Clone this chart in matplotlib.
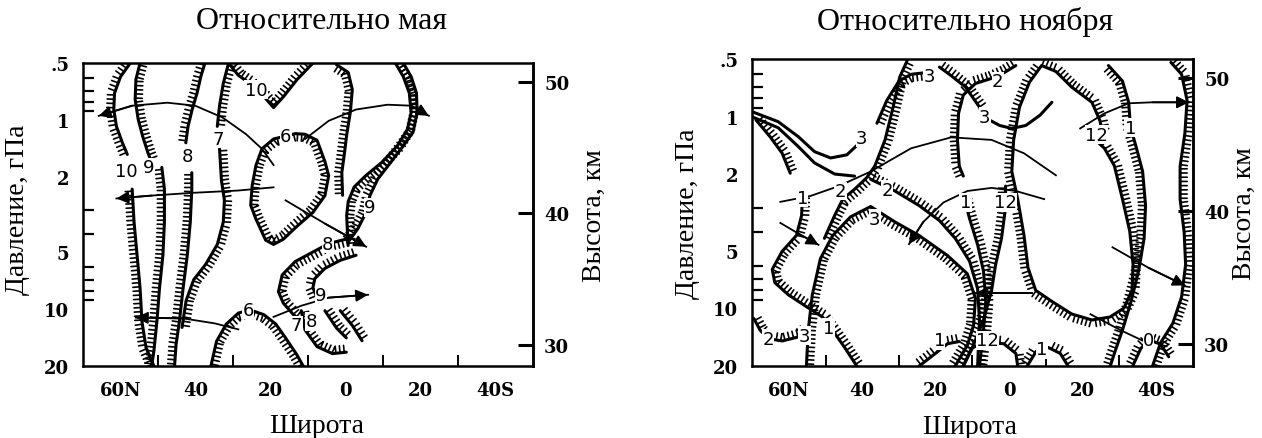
import numpy as np
import matplotlib.pyplot as plt
import matplotlib.patheffects as pe
from matplotlib.ticker import FuncFormatter, NullLocator

plt.rcParams['font.family'] = ['Liberation Serif', 'DejaVu Serif']

# axis ticks
p_ticks = [0.5, 1, 2, 5, 10, 20]
p_tick_labels = ['.5', '1', '2', '5', '10', '20']
p_minor = [0.6, 0.7, 0.8, 0.9, 1, 2, 3, 4, 5, 6, 7, 8, 9, 10]
lat_ticks = [60, 40, 20, 0, -20, -40]
lat_tick_labels = ['60N', '40', '20', '0', '20', '40S']
lat_minor = [60, 50, 40, 30, 20, 10, 0, -10, -20, -30, -40]
z_ticks = [30, 40, 50]

# ---- May: contours (lat, hPa) ----
may_10_top = [(57.4, 0.50), (60.0, 0.59), (61.6, 0.72), (61.8, 0.88), (61.1, 1.08), (59.5, 1.32), (58.2, 1.52)]
may_9_top = [(54.8, 0.50), (55.9, 0.61), (56.1, 0.78), (55.3, 0.99), (54.1, 1.22), (52.7, 1.49), (51.9, 1.64)]
may_9_low = [(49.0, 1.78), (48.3, 2.32), (48.3, 3.46), (48.7, 5.18), (49.6, 7.7), (50.3, 11.6), (51.1, 16.6), (51.7, 20)]
may_10_low = [(56.9, 2.32), (56.4, 3.46), (55.6, 5.18), (54.8, 7.7), (54.3, 11.6), (53.2, 16.0), (51.1, 20)]
may_8_top = [(37.5, 0.50), (38.6, 0.59), (39.6, 0.72), (40.9, 0.88), (42.0, 1.08), (42.6, 1.32)]
may_8_low = [(41.0, 1.9), (41.0, 2.32), (41.4, 3.46), (42.2, 5.18), (43.3, 7.7), (44.3, 11.6), (45.2, 15.4), (45.6, 20)]
may_7_top = [(31.2, 0.50), (32.6, 0.64), (33.6, 0.84), (34.2, 1.08)]
may_7_low = [(33.6, 1.42), (33.1, 2.08), (32.3, 2.66), (32.6, 3.46), (34.2, 4.55), (37.3, 5.8), (40.5, 7.0),
             (42.5, 9.0), (43.6, 12.5)]
may_10_mid = [(31.2, 0.50), (28.6, 0.58), (25.5, 0.64), (21.8, 0.75), (19.2, 0.86), (16.5, 0.75), (12.9, 0.61), (8.7, 0.50)]
may_6_loop = [(15.5, 1.21), (19.2, 1.26), (22.3, 1.42), (23.9, 1.74), (24.9, 2.22), (25.3, 2.82), (23.9, 3.34),
              (21.3, 4.32), (19.2, 4.55), (16.6, 4.27), (12.9, 3.64), (8.7, 3.08), (5.5, 2.51), (4.5, 1.97),
              (5.5, 1.66), (7.6, 1.28), (10.8, 1.19), (13.4, 1.18), (15.5, 1.21)]
may_7_eq = [(2.4, 0.51), (-0.7, 0.56), (-1.8, 0.69), (-1.3, 0.9), (-0.3, 1.2), (0.3, 1.5), (1.0, 1.9), (0.8, 2.5)]
may_9_a = [(-13.3, 0.50), (-15.4, 0.59), (-17.0, 0.72), (-17.5, 0.91), (-16.5, 1.12), (-13.8, 1.37), (-9.6, 1.68),
           (-5.5, 1.96), (-2.3, 2.26), (-0.7, 2.7), (-0.3, 3.2), (-0.5, 3.93), (-0.7, 4.6)]
may_9_b = [(-15.4, 0.50), (-17.5, 0.59), (-18.9, 0.72), (-19.1, 0.91), (-18.0, 1.16), (-15.4, 1.37), (-11.7, 1.71),
           (-8.6, 2.05), (-6.5, 2.51), (-5.5, 3.07), (-3.3, 3.75), (-0.7, 4.42)]
may_8_mid = [(-0.7, 4.24), (4.5, 4.5), (8.7, 4.99), (13.4, 5.6), (16.9, 6.6), (17.9, 8.1), (16.6, 9.3), (13.9, 10.7), (10.8, 11.9)]
may_9_mid = [(-2.8, 5.19), (1.4, 5.52), (5.5, 6.09), (8.2, 6.9), (8.7, 7.7), (7.6, 8.7)]
may_6_low = [(35.9, 20), (34.4, 14.8), (31.8, 12.0), (28.6, 10.5), (25.5, 10.1), (21.8, 10.7), (18.6, 12.0),
             (16.0, 14.2), (13.1, 17.3), (11.3, 20)]
may_7_low_b = [(11.8, 10.2), (10.8, 12.9), (7.6, 15.8), (3.5, 17.2), (-0.2, 16.9)]
may_8_low_b = [(5.5, 10.2), (2.4, 12.6), (-0.2, 14.2)]
may_9_low_b = [(1.4, 10.2), (-1.8, 12.2), (-4.4, 14.7)]

may_labels = [('10', 58.5, 1.85), ('9', 52.5, 1.78), ('8', 42.2, 1.55), ('7', 34.0, 1.26), ('10', 23.9, 0.69),
              ('6', 16.0, 1.22), ('9', -6.5, 2.9), ('8', 4.7, 4.5), ('9', 6.6, 8.4), ('6', 26.0, 10.1),
              ('7', 13.1, 12.2), ('8', 9.2, 11.6)]

# ---- May: transport arrows ----
may_arr_1 = [(19.2, 1.73), (22.3, 1.42), (26.5, 1.19), (32.8, 0.97), (40.1, 0.84), (47.5, 0.81), (56.9, 0.84), (65.8, 0.95)]
may_arr_2 = [(10.8, 1.26), (4.5, 1.01), (-2.8, 0.88), (-11.2, 0.83), (-17.5, 0.84), (-22.2, 0.95)]
may_arr_3 = [(19.2, 2.27), (28.6, 2.36), (41.2, 2.43), (51.7, 2.51), (61.1, 2.60)]
may_arr_4 = [(16.0, 2.66), (5.5, 3.53), (-5.5, 4.68)]
may_arr_5 = [(19.2, 11.0), (11.8, 9.6), (4.5, 8.7), (-6.0, 8.4)]
may_arr_6 = [(28.6, 12.8), (34.9, 11.9), (43.3, 11.2), (55.9, 11.1)]

# ---- November: contours ----
nov_3_plain = [(70.0, 0.94), (62.9, 1.06), (57.4, 1.27), (53.0, 1.52), (48.6, 1.64), (44.2, 1.58), (40.4, 1.35)]
nov_2_plain = [(70.0, 1.00), (62.9, 1.14), (57.4, 1.43), (53.0, 1.74), (47.5, 1.99), (42.1, 2.04)]
nov_1_left = [(68.9, 1.04), (65.1, 1.27), (61.8, 1.55), (59.6, 1.97)]
nov_2_main = [(27.8, 0.51), (29.8, 0.62), (31.6, 0.89), (33.8, 1.32), (36.6, 1.81), (38.8, 2.08), (42.1, 2.39),
              (45.3, 2.69), (47.5, 3.27), (50.3, 4.31)]
nov_3_top = [(36.0, 1.08), (33.3, 0.82), (30.0, 0.65), (26.7, 0.60), (23.4, 0.59)]
nov_1_west = [(56.3, 2.59), (56.5, 3.27), (57.9, 4.16), (61.8, 5.04), (64.5, 6.26), (63.8, 7.34), (60.1, 8.5),
              (55.2, 9.8), (50.8, 11.1), (48.1, 13.0), (44.8, 16.0), (41.5, 20)]
nov_3_loop = [(55.2, 20), (54.7, 13.0), (53.6, 8.5), (51.4, 5.51), (48.1, 4.18), (43.2, 3.33), (37.7, 2.94),
              (31.1, 3.54), (24.5, 4.17), (16.8, 5.3), (11.4, 6.6), (9.2, 8.86), (9.7, 12.25), (11.4, 15.6), (14.7, 20)]
nov_2_mid = [(37.7, 2.12), (31.1, 2.44), (24.5, 2.91), (19.0, 3.48), (14.7, 4.31), (10.8, 5.67), (8.6, 7.91),
             (8.1, 11.5), (8.6, 20)]
nov_3_upper = [(19.0, 0.55), (15.8, 0.61), (11.9, 0.70), (8.1, 0.89), (7.0, 1.0)]
nov_3_trough = [(7.0, 1.0), (2.6, 1.11), (-0.7, 1.15), (-4.5, 1.11), (-8.4, 0.98), (-11.6, 0.84)]
nov_2_upper = [(-1.8, 0.54), (1.5, 0.59), (4.8, 0.63), (9.2, 0.67), (12.5, 0.77), (13.8, 0.96), (14.1, 1.32),
               (13.6, 1.81), (12.5, 2.04)]
nov_1_eq = [(12.5, 2.54), (10.8, 3.4), (8.6, 4.66), (7.0, 6.4), (6.4, 9.2), (7.0, 13.0), (8.1, 20)]
nov_12_eq = [(1.0, 2.3), (1.0, 2.97), (2.1, 4.31), (3.7, 5.9), (4.8, 8.06), (7.0, 11.5), (10.3, 16.5), (12.5, 20)]
nov_12_loop = [(-23.1, 1.3), (-25.9, 1.46), (-28.6, 1.8), (-30.8, 2.68), (-32.8, 3.96), (-33.7, 5.9), (-33.4, 8.06),
               (-31.2, 9.97), (-27.4, 11.1), (-22.5, 11.5), (-17.0, 10.7), (-11.6, 9.2), (-7.2, 8.06), (-5.1, 6.14),
               (-4.0, 4.14), (-2.3, 2.69), (-0.7, 1.93), (-1.2, 1.32), (-2.8, 0.89), (-5.5, 0.66), (-8.8, 0.54),
               (-12.7, 0.58), (-17.0, 0.70), (-22.5, 0.84), (-24.7, 1.05), (-25.3, 1.2)]
nov_1_south = [(-27.0, 0.54), (-30.8, 0.65), (-32.5, 0.84), (-33.0, 1.13), (-34.5, 1.43), (-36.3, 1.93), (-37.1, 2.91),
               (-36.7, 4.31), (-35.2, 6.39), (-33.0, 9.43), (-30.8, 13.0), (-28.6, 17.2), (-27.5, 20)]
nov_0_south = [(-44.0, 0.52), (-46.9, 0.60), (-48.4, 0.82), (-47.8, 1.22), (-46.5, 1.81), (-46.5, 2.69),
               (-47.6, 4.0), (-48.0, 5.9), (-46.9, 8.72), (-44.5, 12.0), (-41.2, 15.1), (-39.0, 20)]
nov_2_low = [(69.5, 11.3), (67.8, 13.0), (65.6, 14.4), (61.8, 14.8), (57.4, 14.1), (55.2, 13.0)]
nov_1_low = [(24.5, 20), (20.1, 17.2), (16.8, 15.3), (13.6, 14.9)]
nov_12_low = [(12.5, 20), (10.3, 16.2), (7.0, 15.0), (1.5, 15.3), (-1.8, 17.2), (-2.3, 20)]
nov_1_low_b = [(-4.9, 20), (-7.3, 16.8), (-10.6, 16.0), (-13.9, 17.2), (-16.0, 20)]
nov_0_low = [(-33.6, 20), (-35.8, 16.2), (-38.0, 14.6), (-41.2, 15.4), (-43.4, 17.9)]

nov_labels = [('3', 40.1, 1.29), ('3', 21.8, 0.61), ('2', 45.9, 2.44), ('1', 56.3, 2.64), ('1', 49.2, 12.6),
              ('3', 36.6, 3.4), ('2', 33.3, 2.4), ('3', 6.7, 1.0), ('2', 3.1, 0.65), ('1', 11.9, 2.8),
              ('12', 1.0, 2.8), ('12', -23.7, 1.24), ('1', -33.0, 1.14), ('2', 65.6, 14.4), ('3', 55.7, 13.9),
              ('1', 19.0, 14.7), ('12', 5.9, 14.7), ('1', -8.9, 16.4), ('0', -37.9, 14.7)]

# ---- November: transport arrows ----
nov_arr_1 = [(62.3, 2.78), (54.1, 2.59), (46.4, 2.30), (37.7, 1.93), (26.7, 1.46), (15.8, 1.28), (4.8, 1.32),
             (-4.0, 1.55), (-12.7, 2.02)]
nov_arr_2 = [(-19.3, 1.15), (-25.9, 0.96), (-32.5, 0.85), (-39.0, 0.84), (-48.9, 0.84)]
nov_arr_3 = [(-9.5, 2.69), (-1.8, 2.44), (4.8, 2.35), (11.4, 2.44), (17.9, 2.8), (23.4, 3.54), (27.3, 4.62)]
nov_arr_4 = [(-6.2, 8.32), (9.2, 8.32)]
nov_arr_5 = [(62.3, 3.58), (57.4, 4.07), (51.9, 4.66)]
nov_arr_6 = [(-28.1, 4.8), (-37.9, 6.14), (-47.8, 7.6)]
nov_arr_7 = [(-22.1, 10.73), (-30.3, 13.0), (-39.0, 15.6)]


def p2z(p):
    return 47.1 - 14.4 * np.log10(np.clip(p, 1e-6, None))


def z2p(z):
    return 10 ** ((47.1 - np.asarray(z, dtype=float)) / 14.4)


def hatched(ax, pts, side=1):
    lat, p = zip(*pts)
    ax.plot(lat, p, color='k', lw=2.2, solid_capstyle='round', solid_joinstyle='round',
            path_effects=[pe.withTickedStroke(angle=90 * side, spacing=3.0, length=1.7, linewidth=1.2)])


def plain(ax, pts):
    lat, p = zip(*pts)
    ax.plot(lat, p, color='k', lw=2.2, solid_capstyle='round')


def arrow(ax, pts, head=True):
    lat, p = zip(*pts)
    ax.plot(lat, p, color='k', lw=1.3)
    if head:
        ax.annotate('', xy=pts[-1], xytext=pts[-2],
                    arrowprops=dict(arrowstyle='-|>', color='k', lw=1.3, mutation_scale=18,
                                    shrinkA=0, shrinkB=0))


def labels(ax, items):
    for s, lat, p in items:
        ax.text(lat, p, s, ha='center', va='center', fontsize=13, family='DejaVu Sans',
                bbox=dict(fc='white', ec='none', pad=0.3), zorder=5)


def bold_ticks(labs, size=13):
    for lab in labs:
        lab.set_family('DejaVu Serif')
        lab.set_fontweight('bold')
        lab.set_fontsize(size)


def setup(ax):
    ax.set_yscale('log')
    ax.set_ylim(20, 0.5)
    ax.set_xlim(70, -50)
    ax.set_yticks(p_ticks)
    ax.set_yticklabels(p_tick_labels)
    ax.set_yticks(p_minor, minor=True)
    ax.yaxis.set_minor_formatter(FuncFormatter(lambda v, _: ''))
    ax.set_xticks(lat_ticks)
    ax.set_xticklabels(lat_tick_labels)
    ax.set_xticks(lat_minor, minor=True)
    ax.tick_params(axis='y', which='major', length=0, pad=10)
    ax.tick_params(axis='y', which='minor', direction='in', length=8, width=1.6)
    ax.tick_params(axis='x', which='major', length=0, pad=11)
    ax.tick_params(axis='x', which='minor', direction='in', length=8, width=1.4)
    bold_ticks(ax.get_xticklabels() + ax.get_yticklabels())
    for s in ax.spines.values():
        s.set_linewidth(1.8)
    sec = ax.secondary_yaxis('right', functions=(p2z, z2p))
    sec.set_yticks(z_ticks)
    sec.yaxis.set_major_formatter(FuncFormatter(lambda v, _: f'{v:.0f}'))
    sec.yaxis.set_minor_locator(NullLocator())
    sec.tick_params(direction='in', length=11, width=2.2, pad=8)
    bold_ticks(sec.get_yticklabels())
    sec.spines['right'].set_linewidth(1.8)
    return sec


fig = plt.figure(figsize=(12.62, 4.39), dpi=100)

# ---- left panel: May ----
ax1 = fig.add_axes([0.0658, 0.164, 0.3566, 0.690])
sec1 = setup(ax1)
for line, side in [(may_10_top, -1), (may_9_top, 1), (may_9_low, -1), (may_10_low, -1), (may_8_top, -1),
                   (may_8_low, -1), (may_7_top, 1), (may_7_low, 1), (may_10_mid, 1), (may_6_loop, 1),
                   (may_7_eq, -1), (may_9_a, 1), (may_9_b, -1), (may_8_mid, 1), (may_9_mid, -1),
                   (may_6_low, -1), (may_7_low_b, 1), (may_8_low_b, 1), (may_9_low_b, 1)]:
    hatched(ax1, line, side)
for a in [may_arr_1, may_arr_2, may_arr_3, may_arr_4, may_arr_5, may_arr_6]:
    arrow(ax1, a)
labels(ax1, may_labels)
ax1.set_xlabel('Широта', fontsize=20)
ax1.xaxis.set_label_coords(0.52, -0.155)
ax1.set_ylabel('Давление, гПа', fontsize=20)
ax1.yaxis.set_label_coords(-0.118, 0.52)
sec1.set_ylabel('Высота, км', fontsize=20)
sec1.yaxis.set_label_coords(1.109, 0.5, transform=ax1.transAxes)
fig.text(0.255, 0.95, 'Относительно мая', fontsize=23, ha='center', va='center')

# ---- right panel: November ----
ax2 = fig.add_axes([0.5959, 0.164, 0.3494, 0.699])
sec2 = setup(ax2)
for line in [nov_3_plain, nov_2_plain, nov_3_trough]:
    plain(ax2, line)
for line, side in [(nov_1_left, 1), (nov_2_main, 1), (nov_3_top, -1), (nov_1_west, 1), (nov_3_loop, -1),
                   (nov_2_mid, 1), (nov_3_upper, 1), (nov_2_upper, -1), (nov_1_eq, 1), (nov_12_eq, -1),
                   (nov_12_loop, 1), (nov_1_south, -1), (nov_0_south, 1), (nov_2_low, 1), (nov_1_low, 1),
                   (nov_12_low, 1), (nov_1_low_b, 1), (nov_0_low, 1)]:
    hatched(ax2, line, side)
for a, h in [(nov_arr_1, False), (nov_arr_2, True), (nov_arr_3, True), (nov_arr_4, True), (nov_arr_5, True),
             (nov_arr_6, True), (nov_arr_7, False)]:
    arrow(ax2, a, h)
labels(ax2, nov_labels)
ax2.set_xlabel('Широта', fontsize=20)
ax2.xaxis.set_label_coords(0.494, -0.155)
ax2.set_ylabel('Давление, гПа', fontsize=20)
ax2.yaxis.set_label_coords(-0.118, 0.5)
sec2.set_ylabel('Высота, км', fontsize=20)
sec2.yaxis.set_label_coords(1.088, 0.5, transform=ax2.transAxes)
fig.text(0.765, 0.95, 'Относительно ноября', fontsize=23, ha='center', va='center')

fig.savefig('out.png', dpi=100)
